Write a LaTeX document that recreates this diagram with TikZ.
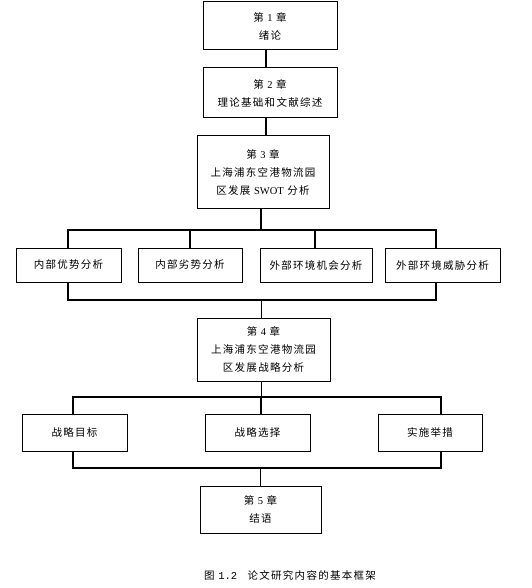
\documentclass[tikz,border=0pt]{standalone}
\usepackage{fontspec}
\setmainfont{Liberation Serif}
\newfontfamily\cjk[LetterSpace=12]{Noto Sans CJK SC}
\newfontfamily\monof{Liberation Mono}
\newcommand\lat[1]{{\rmfamily #1}}
\tikzset{
  box/.style={draw, line width=1pt, inner sep=0pt, align=center,
    font=\cjk\fontsize{10.5}{18}\selectfont},
  conn/.style={line width=1.2pt},
  bus/.style={line width=1.6pt, line cap=rect}
}
\begin{document}
\begin{tikzpicture}[x=1pt,y=-1pt]
\useasboundingbox (0,0) rectangle (531,588);
% chapters
\node[box, minimum width=134pt, minimum height=48pt] (c1) at (270,26) {第 \lat{1} 章\\绪论};
\node[box, minimum width=134pt, minimum height=50pt] (c2) at (270,93) {第 \lat{2} 章\\理论基础和文献综述};
\node[box, minimum width=132pt, minimum height=72pt] (c3) at (263,172) {第 \lat{3} 章\\上海浦东空港物流园\\区发展 \lat{SWOT} 分析};
% SWOT row
\node[box, minimum width=105pt, minimum height=34pt] (s1) at (68.5,265) {内部优势分析};
\node[box, minimum width=104pt, minimum height=34pt] (s2) at (190,265) {内部劣势分析};
\node[box, minimum width=112pt, minimum height=34pt] (s3) at (316,265) {外部环境机会分析};
\node[box, minimum width=115pt, minimum height=34pt] (s4) at (442.5,265) {外部环境威胁分析};
\node[box, minimum width=133pt, minimum height=63pt] (c4) at (263.5,349.5) {第 \lat{4} 章\\上海浦东空港物流园\\区发展战略分析};
% strategy row
\node[box, minimum width=105pt, minimum height=37pt] (a) at (74.5,432.5) {战略目标};
\node[box, minimum width=105pt, minimum height=37pt] (b) at (257.5,432.5) {战略选择};
\node[box, minimum width=104pt, minimum height=37pt] (c) at (430,432.5) {实施举措};
\node[box, minimum width=121pt, minimum height=47pt] (c5) at (260.5,509.5) {第 \lat{5} 章\\结语};
% caption
\node[font=\cjk\fontsize{10.5}{12}\selectfont] (cap) at (290,575) {图 {\monof 1.2}\quad 论文研究内容的基本框架};
% bus coordinates
\coordinate (tL) at (68,230);
\coordinate (tR) at (436,230);
\coordinate (bL) at (68,300);
\coordinate (bR) at (436,300);
\coordinate (uL) at (73,397);
\coordinate (uR) at (441,397);
\coordinate (vL) at (73,468);
\coordinate (vR) at (441,468);
% connectors
\draw[conn] ([xshift=-4pt]c1.south) -- ([xshift=-4pt]c1.south |- c2.north);
\draw[conn] ([xshift=-4pt]c2.south) -- ([xshift=-4pt]c2.south |- c3.north);
\draw[conn] ([xshift=-2pt]c3.south) -- ([xshift=-2pt]c3.south |- tL);
\draw[bus] (tL) -- (tR);
\draw[conn] (tL) -- (tL |- s1.north);
\draw[conn] (s2.north) -- (s2.north |- tL);
\draw[conn] ([xshift=-1pt]s3.north) -- ([xshift=-1pt]s3.north |- tL);
\draw[conn] (tR) -- (tR |- s4.north);
\draw[conn] (s1.south -| bL) -- (bL);
\draw[conn] (s4.south -| bR) -- (bR);
\draw[bus] (bL) -- (bR);
\draw[conn] ([xshift=-2pt]c4.north) -- ([xshift=-2pt]c4.north |- bL);
\draw[conn] ([xshift=-2pt]c4.south) -- ([xshift=-2pt]c4.south |- uL);
\draw[bus] (uL) -- (uR);
\draw[conn] (uL) -- (uL |- a.north);
\draw[conn] ([xshift=3.5pt]b.north) -- ([xshift=3.5pt]b.north |- uL);
\draw[conn] (uR) -- (uR |- c.north);
\draw[conn] (a.south -| vL) -- (vL);
\draw[conn] (c.south -| vR) -- (vR);
\draw[bus] (vL) -- (vR);
\draw[conn] (c5.north) -- (c5.north |- vL);
\end{tikzpicture}
\end{document}
